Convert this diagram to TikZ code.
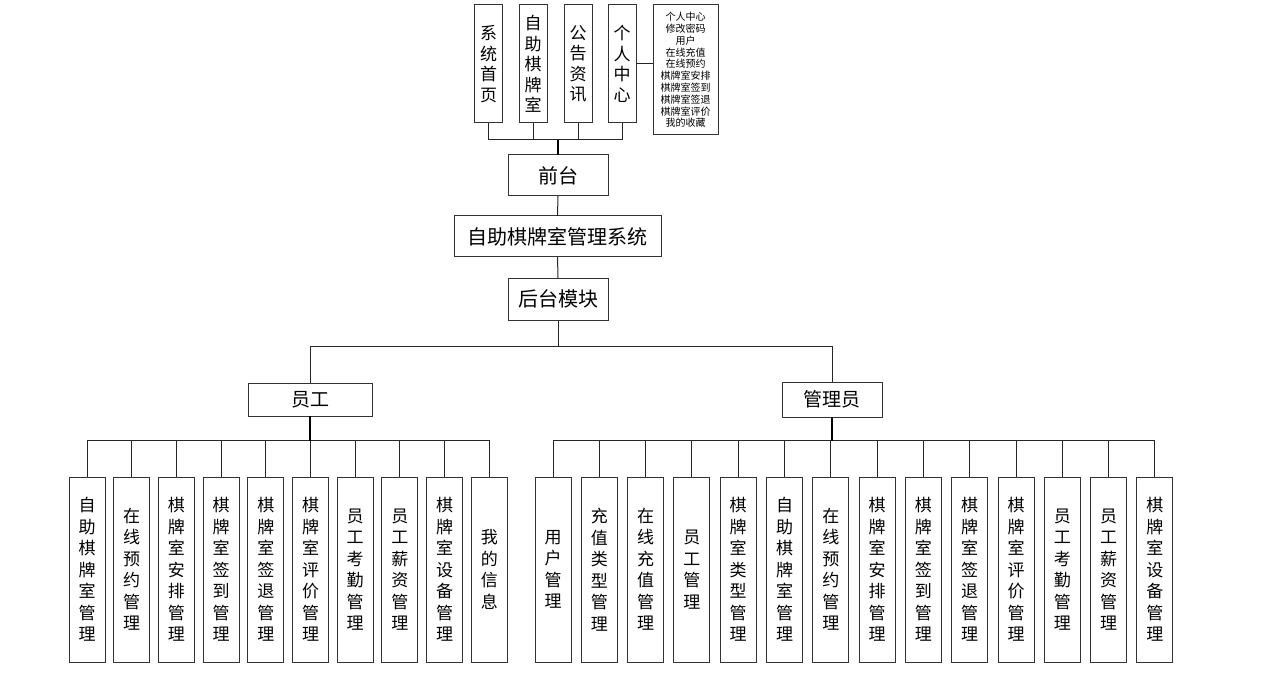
\documentclass[tikz,border=0pt]{standalone}
\usepackage{fontspec}
\newfontfamily\cjk{Noto Sans CJK SC}
\def\vchars#1{\vcharsA#1\relax\relax}
\def\vcharsA#1#2{#1\ifx\relax#2\else\expandafter\vcharsB\fi#2}
\def\vcharsB{\\\vcharsA}
\def\vcharsm#1{\expandafter\vchars\expandafter{#1}}
\begin{document}
\begin{tikzpicture}[x=1pt,y=-1pt,
  box/.style={draw=black!80,line width=1pt,inner sep=0pt,outer sep=0pt,align=center,text=black},
  topbox/.style={box,minimum width=28pt,minimum height=118pt,font=\cjk\fontsize{17}{20.5}\selectfont},
  midbox/.style={box,minimum height=41pt,font=\cjk\fontsize{20}{24}\selectfont},
  rolebox/.style={box,font=\cjk\fontsize{19}{23}\selectfont},
  leafbox/.style={box,minimum width=36pt,minimum height=185pt,font=\cjk\fontsize{17}{21.5}\selectfont},
  notebox/.style={box,minimum width=65pt,minimum height=130pt,font=\cjk\fontsize{10}{11.8}\selectfont},
  conn/.style={draw=black!85,line width=1pt},
  stem/.style={draw=black,line width=2pt}]
\useasboundingbox (0,0) rectangle (1280,679);
% top pages
\node[topbox] (t1) at (488.5,64) {\vchars{系统首页}};
\node[topbox] (t2) at (533,64) {\vchars{自助棋牌室}};
\node[topbox] (t3) at (578,64) {\vchars{公告资讯}};
\node[topbox] (t4) at (622,64) {\vchars{个人中心}};
\node[notebox] (note) at (685.5,70) {个人中心\\修改密码\\用户\\在线充值\\在线预约\\棋牌室安排\\棋牌室签到\\棋牌室签退\\棋牌室评价\\我的收藏};
\draw[conn] (t4.east) -- (t4.east -| note.west);
% middle column
\node[midbox,minimum width=100pt] (qt) at (558,175.5) {前台};
\node[midbox,minimum width=207pt] (sys) at (557.5,236.5) {自助棋牌室管理系统};
\node[midbox,minimum width=100pt,minimum height=42pt] (hm) at (558,299) {后台模块};
\coordinate (tbus) at (0,140);
\foreach \i in {1,...,4} {\draw[conn] (t\i.south) |- (tbus -| qt.north);}
\draw[stem] (tbus -| qt.north) -- (qt.north);
\draw[conn] (qt.south) -- (sys.north);
\draw[conn] (sys.south) -- (hm.north);
% roles
\node[rolebox,minimum width=124pt,minimum height=33pt] (yg) at (310,399.5) {员工};
\node[rolebox,minimum width=100pt,minimum height=35pt] (gl) at (832,399.5) {管理员};
\coordinate (ubus) at (0,346);
\draw[conn] (hm.south) -- (hm.south |- ubus) -| (yg.north);
\draw[conn] (hm.south |- ubus) -| (gl.north);
% leaves
\coordinate (bus) at (0,440.5);
\foreach \t [count=\i] in {自助棋牌室管理,在线预约管理,棋牌室安排管理,棋牌室签到管理,棋牌室签退管理,棋牌室评价管理,员工考勤管理,员工薪资管理,棋牌室设备管理,我的信息} {
  \node[leafbox] (L\i) at ({87+(\i-1)*44.7},569.5) {\vcharsm{\t}};
  \draw[conn] (yg.south |- bus) -| (L\i.north);
}
\draw[stem] (yg.south) -- (yg.south |- bus);
\foreach \t [count=\i] in {用户管理,充值类型管理,在线充值管理,员工管理,棋牌室类型管理,自助棋牌室管理,在线预约管理,棋牌室安排管理,棋牌室签到管理,棋牌室签退管理,棋牌室评价管理,员工考勤管理,员工薪资管理,棋牌室设备管理} {
  \node[leafbox] (R\i) at ({553+(\i-1)*46.3},569.5) {\vcharsm{\t}};
  \draw[conn] (gl.south |- bus) -| (R\i.north);
}
\draw[stem] (gl.south) -- (gl.south |- bus);
\end{tikzpicture}
\end{document}
